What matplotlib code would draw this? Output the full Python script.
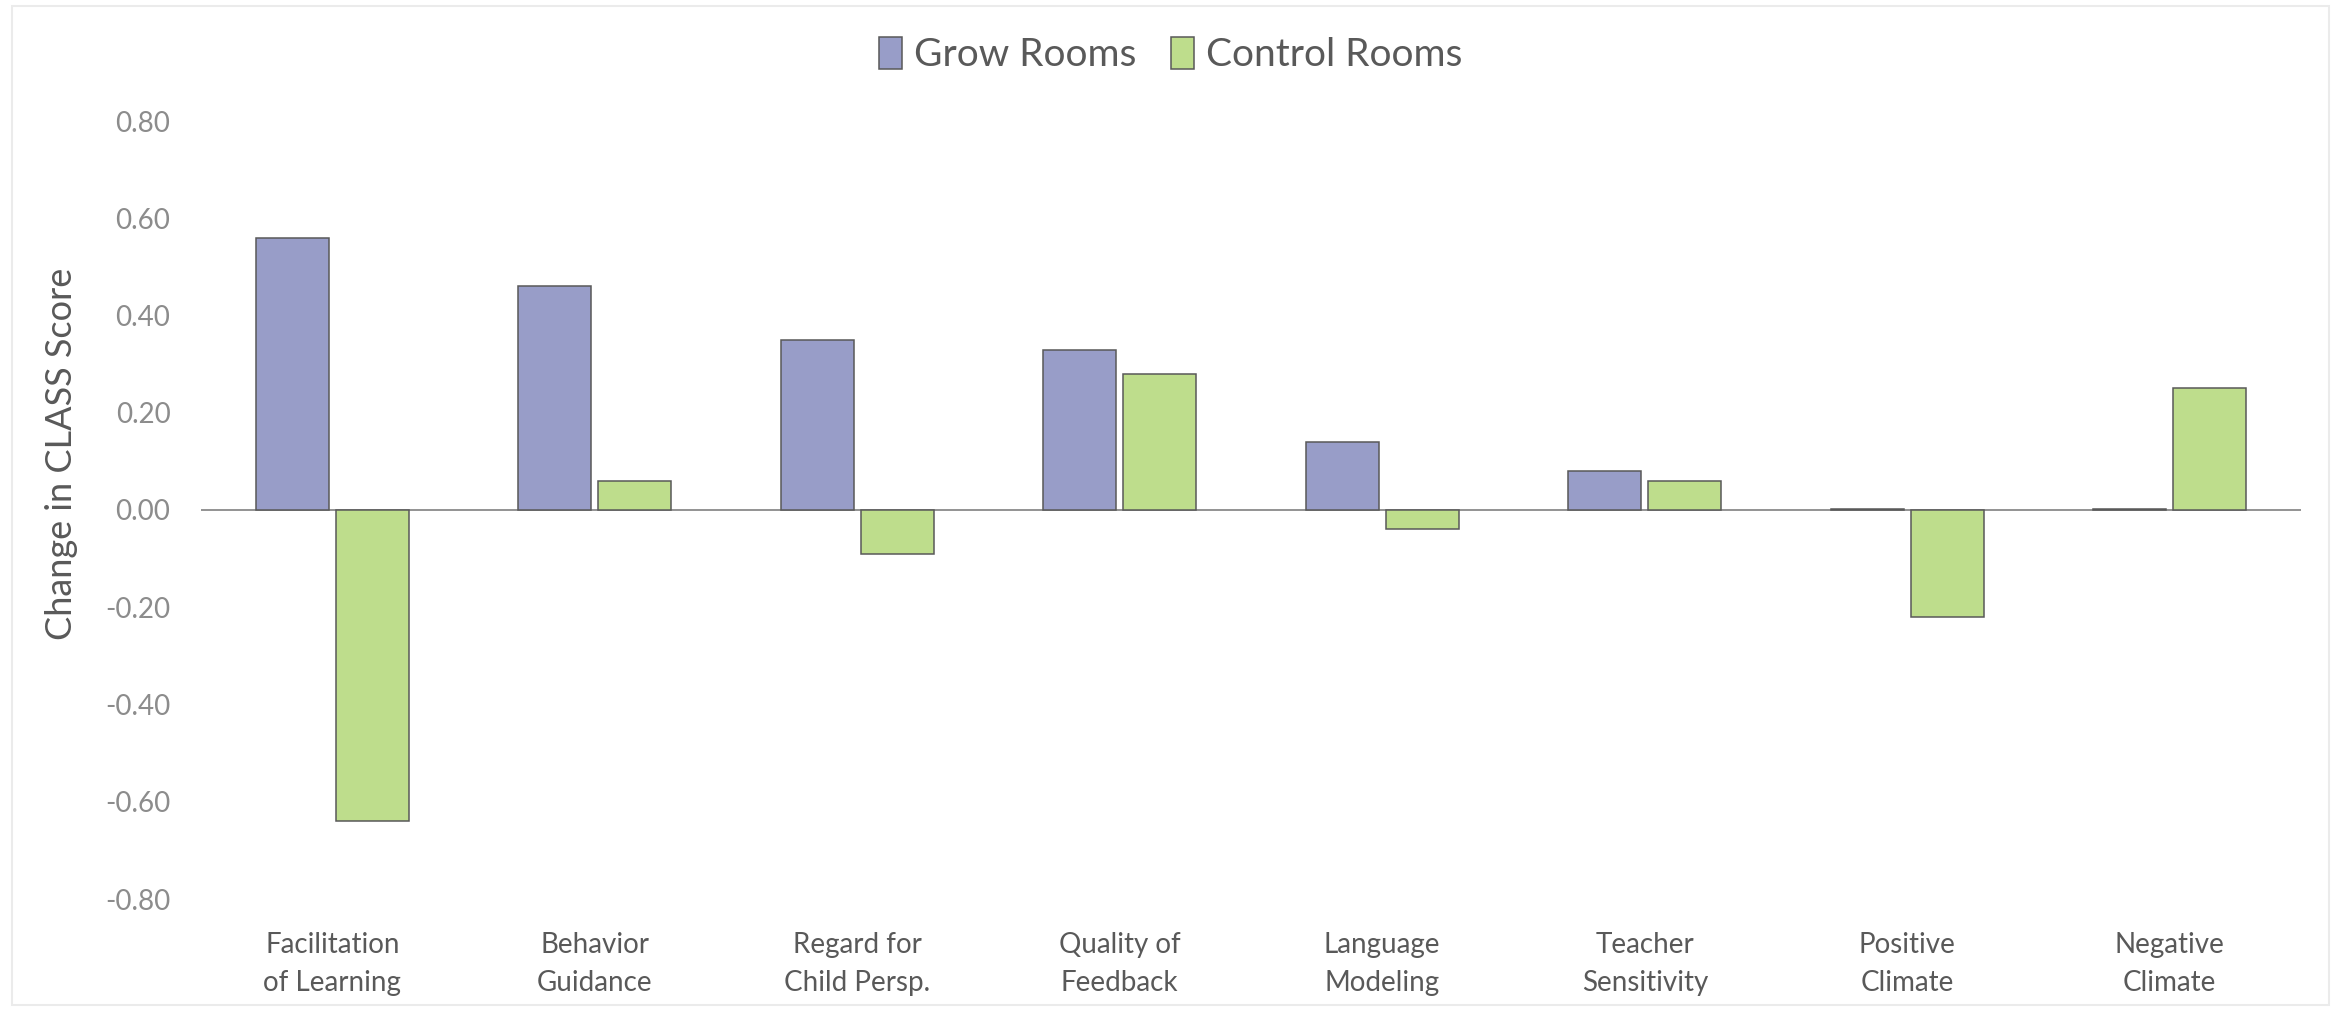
import numpy as np
import matplotlib.pyplot as plt
from matplotlib.patches import Rectangle

# data
categories = ['Facilitation\nof Learning', 'Behavior\nGuidance', 'Regard for\nChild Persp.',
              'Quality of\nFeedback', 'Language\nModeling', 'Teacher\nSensitivity',
              'Positive\nClimate', 'Negative\nClimate']
grow_rooms = [0.56, 0.46, 0.35, 0.33, 0.14, 0.08, 0.003, 0.003]
control_rooms = [-0.64, 0.06, -0.09, 0.28, -0.04, 0.06, -0.22, 0.25]
y_ticks = [0.80, 0.60, 0.40, 0.20, 0.00, -0.20, -0.40, -0.60, -0.80]

plt.rcParams['font.family'] = ['Lato', 'DejaVu Sans']

W, H = 2341, 1011
fig = plt.figure(figsize=(W / 100, H / 100), dpi=100)
ax = fig.add_axes([201 / W, 1 - 899 / H, 2100 / W, (899 - 121) / H])

x = np.arange(len(categories))
bw = 0.278
gap = 0.027
edge = '#595959'
ax.bar(x - (bw + gap) / 2, grow_rooms, bw, color='#989DC8', edgecolor=edge,
       linewidth=1.1, label='Grow Rooms', zorder=3)
ax.bar(x + (bw + gap) / 2, control_rooms, bw, color='#BEDD8C', edgecolor=edge,
       linewidth=1.1, label='Control Rooms', zorder=3)
ax.axhline(0, color='#8A8A8A', linewidth=1.3, zorder=2)

ax.set_xlim(-0.5, len(categories) - 0.5)
ax.set_ylim(-0.8, 0.8)
ax.set_yticks(y_ticks)
ax.set_yticklabels([f'{v:.2f}' for v in y_ticks])
ax.set_xticks(x)
ax.set_xticklabels(categories, fontsize=20, color='#595959', linespacing=1.55)
ax.tick_params(axis='x', length=0, pad=24)
ax.tick_params(axis='y', length=0, pad=22, labelsize=20, labelcolor='#8C8C8C')
for s in ax.spines.values():
    s.set_visible(False)

fig.text(62 / W, 1 - 454 / H, 'Change in CLASS Score', rotation=90,
         ha='center', va='center', fontsize=26, color='#595959')

fig.legend(loc='center', bbox_to_anchor=(0.5, 1 - 55 / H), ncol=2, frameon=False,
           fontsize=28, labelcolor='#595959', handlelength=0.6, handleheight=0.9,
           handletextpad=0.3, columnspacing=0.9)

# light chart-area border
fig.patches.append(Rectangle((12 / W, 6 / H), (2329 - 12) / W, (1005 - 6) / H,
                             transform=fig.transFigure, fill=False,
                             edgecolor='#EBEBEB', linewidth=1.5))

fig.savefig('out.png', dpi=100, facecolor='white')
